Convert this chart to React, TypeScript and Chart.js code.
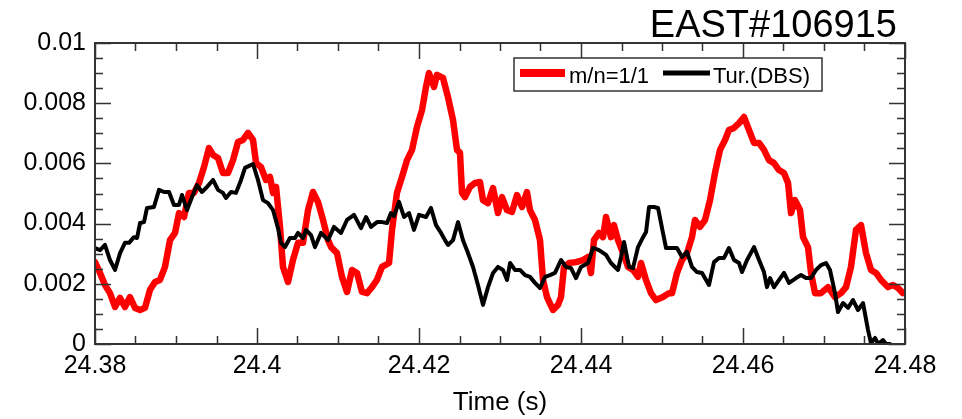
import { useEffect, useRef } from "react";
import { Chart, registerables } from "chart.js";

Chart.register(...registerables);

const TITLE = "EAST#106915";
const X_LABEL = "Time (s)";
const SERIES_LABELS = ["m/n=1/1", "Tur.(DBS)"];
const SERIES_COLORS = ["#ff0000", "#000000"];

const X_MIN = 24.38;
const X_MAX = 24.48;
const X_STEP = 0.02;
const X_MINOR = 0.005;
const Y_MIN = 0;
const Y_MAX = 0.01;
const Y_STEP = 0.002;
const Y_MINOR = 0.0005;

const modeTimes = [
  24.38, 24.38062, 24.38123, 24.38185, 24.38247, 24.38309, 24.3837, 24.38432, 24.38494, 24.38556,
  24.38617, 24.38679, 24.38741, 24.38802, 24.38864, 24.38926, 24.38988, 24.39037, 24.39099, 24.3916,
  24.39222, 24.39284, 24.39346, 24.39407, 24.39457, 24.39519, 24.3958, 24.39642, 24.39704, 24.39765,
  24.39827, 24.39889, 24.39951, 24.39988, 24.40049, 24.40111, 24.4016, 24.40198, 24.40235, 24.40284,
  24.40321, 24.40383, 24.40444, 24.40506, 24.40568, 24.4063, 24.40691, 24.40753, 24.40815, 24.40877,
  24.40914, 24.40988, 24.41049, 24.41111, 24.41173, 24.41235, 24.41296, 24.41358, 24.4142, 24.41481,
  24.41543, 24.4163, 24.41667, 24.41728, 24.4179, 24.41852, 24.41914, 24.41975, 24.42037, 24.42086,
  24.42123, 24.42185, 24.42222, 24.42296, 24.42358, 24.4242, 24.42469, 24.42506, 24.42531, 24.42568,
  24.4263, 24.42691, 24.42753, 24.4279, 24.42852, 24.42914, 24.42975, 24.43025, 24.43086, 24.43148,
  24.4321, 24.43272, 24.43333, 24.4337, 24.43432, 24.43494, 24.43531, 24.4358, 24.43654, 24.43716,
  24.43753, 24.4379, 24.43852, 24.43938, 24.44025, 24.44086, 24.44123, 24.4416, 24.44222, 24.44272,
  24.44309, 24.4437, 24.44407, 24.44457, 24.44519, 24.4458, 24.44642, 24.44704, 24.44741, 24.44802,
  24.44864, 24.44926, 24.45012, 24.45086, 24.45124, 24.45185, 24.45247, 24.45309, 24.4537, 24.45407,
  24.45469, 24.45531, 24.45593, 24.45654, 24.45716, 24.45778, 24.45827, 24.45889, 24.45951, 24.46012,
  24.46074, 24.46136, 24.46198, 24.46259, 24.46321, 24.46383, 24.46444, 24.46506, 24.46556, 24.46593,
  24.46642, 24.46704, 24.46741, 24.46802, 24.4684, 24.46889, 24.46963, 24.47049, 24.47136, 24.4721,
  24.47272, 24.47333, 24.47395, 24.47457, 24.47519, 24.4758, 24.47642, 24.47704, 24.4779, 24.47852,
  24.47914, 24.47975, 24.48,
];
const modeValues = [
  0.00272, 0.00236, 0.00196, 0.00169, 0.00123, 0.00153, 0.00123, 0.00156, 0.0012, 0.00113,
  0.0012, 0.0018, 0.00206, 0.00213, 0.00256, 0.00345, 0.00369, 0.00435, 0.00422, 0.00502,
  0.00502, 0.00535, 0.00588, 0.00651, 0.00628, 0.00618, 0.00568, 0.00568, 0.00611, 0.00671,
  0.00678, 0.00701, 0.00678, 0.00601, 0.00588, 0.00545, 0.00555, 0.00502, 0.00522, 0.00389,
  0.00256, 0.00206, 0.00279, 0.00336, 0.00336, 0.00445, 0.00505, 0.00472, 0.00412, 0.00345,
  0.00322, 0.00302, 0.00223, 0.00173, 0.00246, 0.00236, 0.00173, 0.00169, 0.00189, 0.00213,
  0.00256, 0.00269, 0.00379, 0.00502, 0.00555, 0.00611, 0.00645, 0.00721, 0.00777, 0.00854,
  0.009, 0.00854, 0.00894, 0.00884, 0.0082, 0.00744, 0.00645, 0.00635, 0.00502, 0.00488,
  0.00522, 0.00535, 0.00538, 0.00478, 0.00468, 0.00518, 0.00435, 0.00488, 0.00445, 0.00439,
  0.00495, 0.00455, 0.00505, 0.00445, 0.00412, 0.00345, 0.00213, 0.00156, 0.00113, 0.0013,
  0.00156, 0.00256, 0.00269, 0.00272, 0.00279, 0.00289, 0.00236, 0.00345, 0.00369, 0.00355,
  0.00422, 0.00355, 0.00395, 0.00345, 0.00302, 0.00256, 0.00246, 0.00223, 0.00269, 0.00213,
  0.00169, 0.00146, 0.00156, 0.00169, 0.00169, 0.00236, 0.00279, 0.00302, 0.00355, 0.00412,
  0.00389, 0.00412, 0.00478, 0.00568, 0.00645, 0.00678, 0.00711, 0.00718, 0.00734, 0.00754,
  0.00711, 0.00668, 0.00668, 0.00645, 0.00611, 0.00601, 0.00578, 0.00568, 0.00535, 0.00435,
  0.00478, 0.00445, 0.00355, 0.00322, 0.00236, 0.00169, 0.00169, 0.00189, 0.00156, 0.00169,
  0.00189, 0.00256, 0.00379, 0.00395, 0.00302, 0.00246, 0.00236, 0.00213, 0.00189, 0.00196,
  0.00186, 0.00169, 0.0017,
];

const turbTimes = [
  24.38, 24.38062, 24.38123, 24.38185, 24.38247, 24.38309, 24.3837, 24.3842, 24.38481, 24.38519,
  24.38556, 24.38605, 24.38642, 24.38728, 24.3879, 24.38852, 24.38914, 24.38975, 24.39037, 24.39074,
  24.39136, 24.39198, 24.39259, 24.39321, 24.39383, 24.39457, 24.39519, 24.3958, 24.39617, 24.39679,
  24.39741, 24.39803, 24.39852, 24.39951, 24.40012, 24.40074, 24.40136, 24.40198, 24.40259, 24.40296,
  24.40346, 24.40407, 24.40469, 24.40506, 24.40568, 24.40605, 24.40667, 24.40716, 24.4079, 24.40877,
  24.40951, 24.41037, 24.41111, 24.41198, 24.41284, 24.41346, 24.41407, 24.41482, 24.41543, 24.41605,
  24.41654, 24.41691, 24.41753, 24.41815, 24.41877, 24.41938, 24.42, 24.42087, 24.42148, 24.4221,
  24.42272, 24.42321, 24.42358, 24.4242, 24.42482, 24.42543, 24.42605, 24.42667, 24.42728, 24.4279,
  24.42852, 24.42914, 24.42975, 24.43037, 24.43087, 24.43124, 24.43185, 24.43247, 24.43309, 24.4337,
  24.43432, 24.43494, 24.43556, 24.43617, 24.43679, 24.43753, 24.43815, 24.43877, 24.43938, 24.44,
  24.44087, 24.44148, 24.44222, 24.44309, 24.4437, 24.44457, 24.44494, 24.44531, 24.44593, 24.44642,
  24.44704, 24.44766, 24.44803, 24.4484, 24.44901, 24.44951, 24.45012, 24.4505, 24.45136, 24.45185,
  24.45247, 24.45309, 24.4537, 24.45432, 24.45494, 24.4558, 24.45642, 24.45704, 24.45766, 24.45827,
  24.45889, 24.45951, 24.45988, 24.4605, 24.46136, 24.46198, 24.46259, 24.46296, 24.46334, 24.46383,
  24.46445, 24.46506, 24.46568, 24.46655, 24.46716, 24.46778, 24.4684, 24.46901, 24.46963, 24.47025,
  24.47074, 24.47136, 24.47173, 24.47235, 24.47297, 24.47358, 24.4742, 24.47482, 24.47543, 24.4758,
  24.4763, 24.47667, 24.47728, 24.47765, 24.47815,
];
const turbValues = [
  0.00319, 0.00312, 0.00329, 0.00279, 0.00246, 0.00302, 0.00336, 0.00336, 0.00355, 0.00352,
  0.00402, 0.00405, 0.00452, 0.00455, 0.00512, 0.00505, 0.00505, 0.00462, 0.00462, 0.00495,
  0.00445, 0.00488, 0.00528, 0.00505, 0.00522, 0.00545, 0.00512, 0.00502, 0.00485, 0.00505,
  0.00502, 0.00545, 0.00585, 0.00598, 0.00545, 0.00478, 0.00468, 0.00445, 0.00385, 0.00336,
  0.00322, 0.00352, 0.00352, 0.00369, 0.00352, 0.00379, 0.00362, 0.00322, 0.00369, 0.00345,
  0.00389, 0.00369, 0.00412, 0.00429, 0.00385, 0.00422, 0.00389, 0.00405, 0.00405, 0.00402,
  0.00435, 0.00425, 0.00472, 0.00422, 0.00435, 0.00379, 0.00429, 0.00422, 0.00452, 0.00395,
  0.00369, 0.00345, 0.00329, 0.00345, 0.00405, 0.00345, 0.00302, 0.00256, 0.00196, 0.0013,
  0.00189, 0.00236, 0.00256, 0.00246, 0.00213, 0.00269, 0.00246, 0.00246, 0.00229, 0.00223,
  0.00203, 0.00186, 0.00223, 0.00229, 0.00236, 0.00279, 0.00256, 0.00252, 0.00219, 0.00256,
  0.00269, 0.00319, 0.00312, 0.00296, 0.00269, 0.00246, 0.00289, 0.00339, 0.00256, 0.00252,
  0.00322, 0.00355, 0.00372, 0.00455, 0.00455, 0.00452, 0.00369, 0.00319, 0.00319, 0.00319,
  0.00289, 0.00306, 0.00256, 0.00239, 0.00236, 0.00196, 0.00272, 0.00286, 0.00286, 0.00319,
  0.00279, 0.00269, 0.00239, 0.00279, 0.00322, 0.00279, 0.00239, 0.00189, 0.00219, 0.00189,
  0.00213, 0.00236, 0.00203, 0.00219, 0.00229, 0.00219, 0.00219, 0.00246, 0.00262, 0.00269,
  0.00246, 0.00169, 0.00106, 0.00136, 0.0012, 0.00146, 0.00113, 0.00136, 0.00047, 0.00003,
  0.0002, 0.0, 0.00013, 0.0, 0.0,
];

const FONT = "'Liberation Sans', Arial, Helvetica, sans-serif";
const AXIS_COLOR = "#333333";

const framePlugin = {
  id: "frameTicks",
  afterDatasetsDraw(chart: any) {
    const { ctx, chartArea, scales } = chart;
    const { left, right, top, bottom } = chartArea;
    const xs = scales.x;
    const ys = scales.y;
    ctx.save();
    ctx.strokeStyle = AXIS_COLOR;
    ctx.lineWidth = 1.5;
    ctx.beginPath();
    const nx = Math.round((X_MAX - X_MIN) / X_MINOR);
    const xRatio = Math.round(X_STEP / X_MINOR);
    for (let i = 0; i <= nx; i++) {
      const v = X_MIN + i * X_MINOR;
      const px = Math.round(xs.getPixelForValue(v)) + 0.5;
      const len = i % xRatio === 0 ? 16 : 8;
      ctx.moveTo(px, bottom);
      ctx.lineTo(px, bottom - len);
      ctx.moveTo(px, top);
      ctx.lineTo(px, top + len);
    }
    const ny = Math.round((Y_MAX - Y_MIN) / Y_MINOR);
    const yRatio = Math.round(Y_STEP / Y_MINOR);
    for (let i = 0; i <= ny; i++) {
      const v = Y_MIN + i * Y_MINOR;
      const py = Math.round(ys.getPixelForValue(v)) + 0.5;
      const len = i % yRatio === 0 ? 16 : 8;
      ctx.moveTo(left, py);
      ctx.lineTo(left + len, py);
      ctx.moveTo(right, py);
      ctx.lineTo(right - len, py);
    }
    ctx.stroke();
    ctx.lineWidth = 2;
    ctx.strokeRect(left, top, right - left, bottom - top);
    ctx.restore();
  },
};

const legendPlugin = {
  id: "boxLegend",
  afterDraw(chart: any) {
    const { ctx } = chart;
    const ds = chart.data.datasets;
    ctx.save();
    const boxL = 514;
    const boxT = 58;
    const boxW = 308;
    const boxH = 33;
    ctx.fillStyle = "#ffffff";
    ctx.fillRect(boxL, boxT, boxW, boxH);
    ctx.strokeStyle = AXIS_COLOR;
    ctx.lineWidth = 1.5;
    ctx.strokeRect(boxL, boxT, boxW, boxH);
    ctx.font = `22px ${FONT}`;
    ctx.textBaseline = "alphabetic";
    ctx.textAlign = "left";
    const cy = boxT + 15;
    const items = [
      { x0: 520, x1: 565, tx: 569, w: 8 },
      { x0: 663, x1: 710, tx: 713, w: 5 },
    ];
    items.forEach((it, i) => {
      ctx.strokeStyle = ds[i].borderColor;
      ctx.lineWidth = it.w;
      ctx.lineCap = "butt";
      ctx.beginPath();
      ctx.moveTo(it.x0, cy);
      ctx.lineTo(it.x1, cy);
      ctx.stroke();
      ctx.fillStyle = "#000000";
      ctx.fillText(ds[i].label, it.tx, boxT + 25);
    });
    ctx.font = `38px ${FONT}`;
    ctx.textAlign = "right";
    ctx.fillText(TITLE, 897, 37);
    ctx.restore();
  },
};

export default function App() {
  const canvasRef = useRef<HTMLCanvasElement | null>(null);

  useEffect(() => {
    const canvas = canvasRef.current;
    if (!canvas) return;
    const chart = new Chart(canvas, {
      type: "line",
      data: {
        datasets: [
          {
            label: SERIES_LABELS[0],
            data: modeTimes.map((t, i) => ({ x: t, y: modeValues[i] })),
            borderColor: SERIES_COLORS[0],
            backgroundColor: SERIES_COLORS[0],
            borderWidth: 6.5,
            pointRadius: 0,
            tension: 0,
            borderJoinStyle: "round",
            borderCapStyle: "round",
            order: 2,
          },
          {
            label: SERIES_LABELS[1],
            data: turbTimes.map((t, i) => ({ x: t, y: turbValues[i] })),
            borderColor: SERIES_COLORS[1],
            backgroundColor: SERIES_COLORS[1],
            borderWidth: 4,
            pointRadius: 0,
            tension: 0,
            borderJoinStyle: "round",
            borderCapStyle: "round",
            order: 1,
          },
        ],
      },
      options: {
        animation: false,
        responsive: false,
        maintainAspectRatio: false,
        devicePixelRatio: 1,
        layout: { padding: { top: 43, right: 57, left: 0, bottom: 0 } },
        plugins: {
          legend: { display: false },
          tooltip: { enabled: false },
          title: { display: false },
        },
        scales: {
          x: {
            type: "linear",
            min: X_MIN,
            max: X_MAX,
            afterFit(scale: any) {
              scale.height = 75;
            },
            grid: { display: false, drawTicks: false },
            border: { display: false },
            ticks: {
              stepSize: X_STEP,
              autoSkip: false,
              maxRotation: 0,
              padding: 7,
              color: "#000000",
              font: { family: FONT, size: 25 },
              callback: (v: any) => String(Number(Number(v).toFixed(2))),
            },
            title: {
              display: true,
              text: X_LABEL,
              color: "#000000",
              font: { family: FONT, size: 26, lineHeight: 1 },
              padding: { top: 0, bottom: 3 },
            },
          },
          y: {
            type: "linear",
            min: Y_MIN,
            max: Y_MAX,
            afterFit(scale: any) {
              scale.width = 95;
            },
            grid: { display: false, drawTicks: false },
            border: { display: false },
            ticks: {
              stepSize: Y_STEP,
              padding: 9,
              color: "#000000",
              font: { family: FONT, size: 25 },
              callback: (v: any) => String(Number(Number(v).toFixed(4))),
            },
          },
        },
      },
      plugins: [framePlugin, legendPlugin],
    });
    return () => chart.destroy();
  }, []);

  return (
    <div style={{ position: "absolute", left: 0, top: 0, width: 962, height: 419, background: "#ffffff" }}>
      <canvas ref={canvasRef} width={962} height={419} style={{ width: 962, height: 419 }} />
    </div>
  );
}
